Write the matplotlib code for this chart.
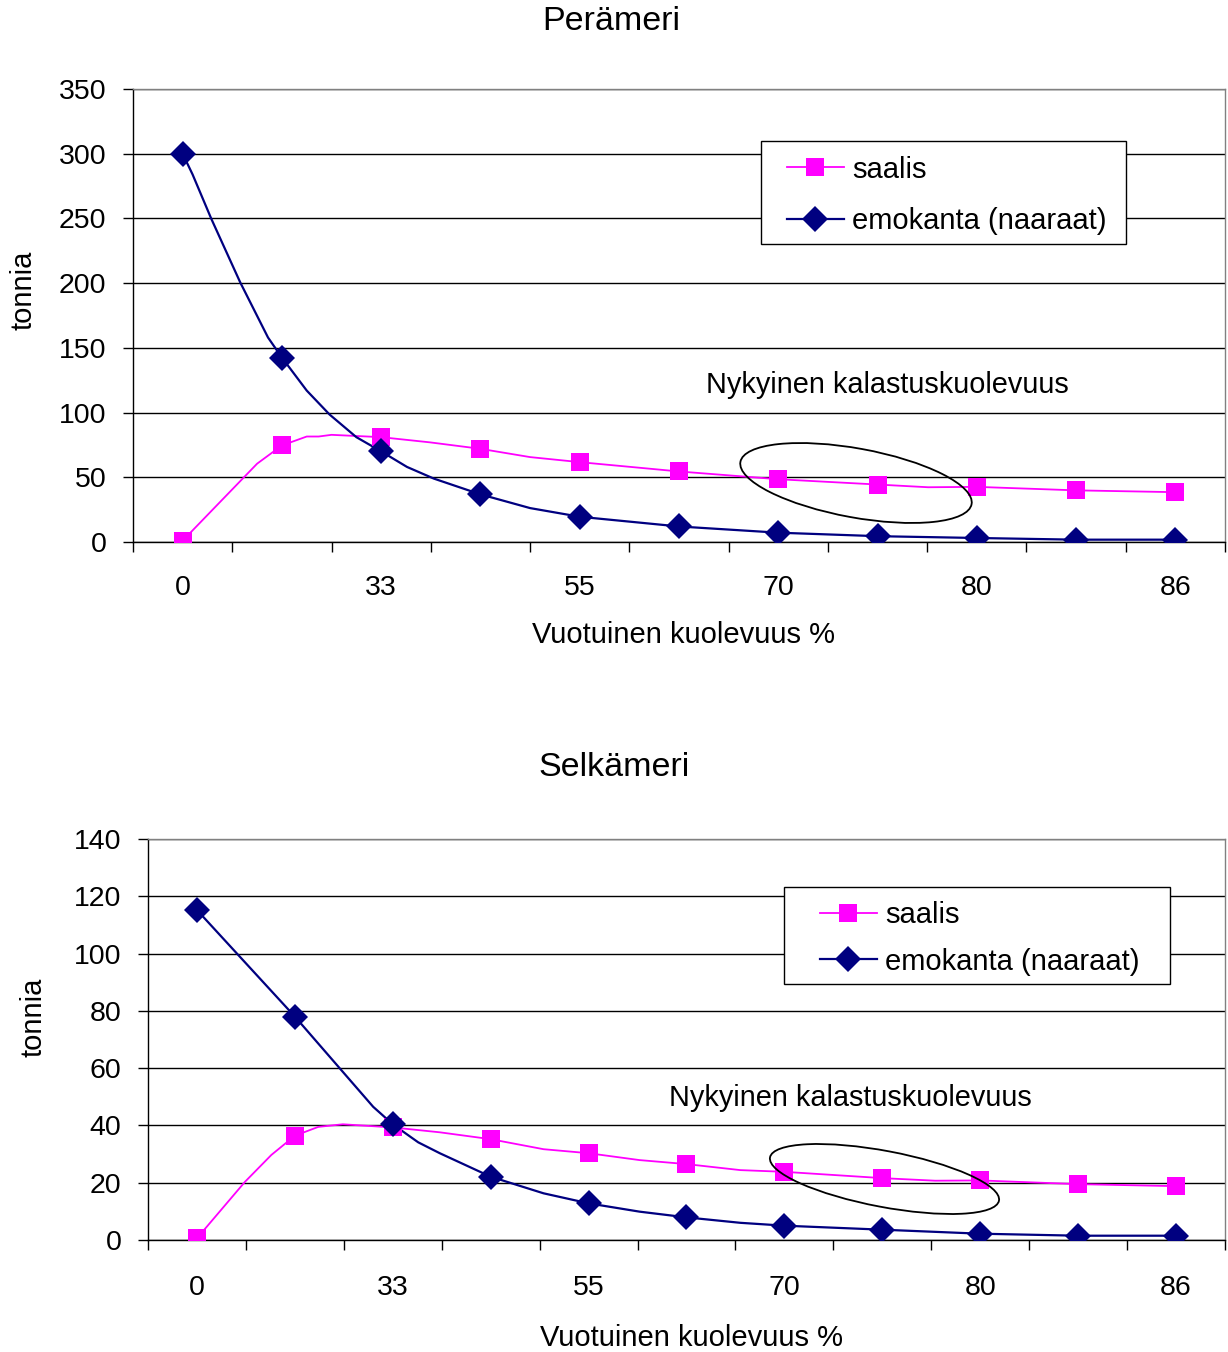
import matplotlib
matplotlib.use("Agg")
import matplotlib.pyplot as plt
from matplotlib.patches import Ellipse, Rectangle
from matplotlib.lines import Line2D
from matplotlib.transforms import IdentityTransform

plt.rcParams['font.family'] = ['Liberation Sans', 'DejaVu Sans']

W, H = 1228, 1352
DPI = 100

# ---------------- data ----------------
x_positions = list(range(11))
x_tick_pos = [0, 2, 4, 6, 8, 10]
x_tick_labels = ["0", "33", "55", "70", "80", "86"]
series_names = ["saalis", "emokanta (naaraat)"]

# Perämeri (marker values)
per_saalis = [1, 74.6, 81, 72, 61.7, 54.5, 48.5, 44.4, 42.6, 39.9, 38.5]
per_emo = [300, 142.5, 70, 36.8, 19.5, 12, 7.2, 4.5, 3.1, 1.8, 1.8]
# additional curve samples between markers
per_saalis_cx = [0.75, 1.25, 1.37, 1.50, 2.49, 3.50, 7.51]
per_saalis_cy = [60.5, 81.5, 81.5, 82.8, 77, 65.6, 42.3]
per_emo_cx = [0.10, 0.29, 0.58, 0.86, 1.25, 1.48, 1.75, 2.26, 2.53, 3.50]
per_emo_cy = [284, 249.5, 200.6, 158, 117, 98.5, 81, 58, 49, 26.2]

# Selkämeri (marker values)
sel_saalis = [0.6, 36.4, 39.3, 35.2, 30.3, 26.5, 23.8, 21.6, 20.8, 19.5, 18.8]
sel_emo = [115.2, 78, 40.4, 22.1, 12.8, 7.9, 5.0, 3.6, 2.2, 1.5, 1.5]
sel_saalis_cx = [0.49, 0.76, 1.24, 1.49, 2.48, 3.54, 4.52, 5.55, 7.54]
sel_saalis_cy = [20.3, 29.7, 39.5, 40.4, 37.6, 31.7, 27.9, 24.4, 20.7]
sel_emo_cx = [1.49, 1.80, 2.26, 2.48, 3.54, 4.52, 5.55]
sel_emo_cy = [58.7, 46.5, 34.1, 30.3, 16.3, 9.9, 6.0]

PINK = "#FF00FF"
NAVY = "#000080"
FS = 20.5
MS_SQ = 13.2
MS_D = 13.0


def merge(xm, ym, xc, yc):
    pts = sorted(list(zip(xm, ym)) + list(zip(xc, yc)))
    return [p[0] for p in pts], [p[1] for p in pts]


fig = plt.figure(figsize=(W / DPI, H / DPI), dpi=DPI)


def px_rect(l, t, r, b):
    return [l / W, 1 - b / H, (r - l) / W, (b - t) / H]


def panel(rect, ymax, ystep, saalis, sx, sy, emo, ex, ey,
          title, title_xy, xlabel_xy, ylabel_xy, note_xy,
          legend_box, handle_off, lspacing, xpad, ellipse):
    l, t, r, b = rect
    ax = fig.add_axes(px_rect(l, t, r, b))
    ax.set_xlim(-0.5, 10.5)
    ax.set_ylim(0, ymax)

    lx, ly = merge(x_positions, saalis, sx, sy)
    ax.plot(lx, ly, color=PINK, lw=1.3, zorder=5)
    ax.plot(x_positions, saalis, ls="none", marker="s", ms=MS_SQ,
            mfc=PINK, mec=PINK, mew=0, zorder=6)
    lx, ly = merge(x_positions, emo, ex, ey)
    ax.plot(lx, ly, color=NAVY, lw=1.6, zorder=5)
    ax.plot(x_positions, emo, ls="none", marker="D", ms=MS_D,
            mfc=NAVY, mec=NAVY, mew=0, zorder=7)

    # axes styling
    yt = list(range(0, ymax + 1, ystep))
    ax.set_yticks(yt)
    ax.set_yticklabels([str(v) for v in yt], fontsize=FS)
    ax.yaxis.grid(True, color="black", lw=1.0)
    ax.set_axisbelow(True)
    ax.tick_params(axis="y", direction="out", length=7, width=1,
                   pad=12, color="black")
    ax.set_xticks([i - 0.5 for i in range(12)])
    ax.set_xticklabels([])
    ax.tick_params(axis="x", which="major", direction="out", length=7, width=1)
    ax.set_xticks(x_tick_pos, minor=True)
    ax.set_xticklabels(x_tick_labels, minor=True, fontsize=FS)
    ax.tick_params(axis="x", which="minor", length=0, pad=xpad)
    for s in ("left", "bottom"):
        ax.spines[s].set_color("black")
        ax.spines[s].set_linewidth(1.0)
    for s in ("top", "right"):
        ax.spines[s].set_color("#808080")
        ax.spines[s].set_linewidth(1.0)

    # legend (manual frame)
    bl, bt, br, bb = legend_box
    ax_w, ax_h = r - l, b - t
    ax.add_patch(Rectangle(((bl - l) / ax_w, (b - bb) / ax_h),
                           (br - bl) / ax_w, (bb - bt) / ax_h,
                           transform=ax.transAxes, facecolor="white",
                           edgecolor="black", lw=1.0, zorder=8))
    handles = [
        Line2D([], [], color=PINK, lw=1.3, marker="s", ms=MS_SQ, mfc=PINK, mew=0),
        Line2D([], [], color=NAVY, lw=1.6, marker="D", ms=MS_D, mfc=NAVY, mew=0),
    ]
    leg = ax.legend(handles, series_names, frameon=False, loc="center left",
                    bbox_to_anchor=((bl + handle_off - l) / ax_w,
                                    (b - (bt + bb) / 2 - 3) / ax_h),
                    borderpad=0, borderaxespad=0, handlelength=1.95,
                    handletextpad=0.28, labelspacing=lspacing,
                    fontsize=FS + 0.5)
    leg.set_zorder(9)

    ax.text((note_xy[0] - l) / ax_w, (b - note_xy[1]) / ax_h,
            "Nykyinen kalastuskuolevuus", transform=ax.transAxes,
            ha="center", va="center", fontsize=FS + 0.3, zorder=9)

    ex_c, ey_c, ew, eh, ang = ellipse
    ax.add_patch(Ellipse((ex_c, H - ey_c), ew, eh, angle=ang,
                         transform=IdentityTransform(), fill=False,
                         edgecolor="black", lw=1.3, zorder=9))

    fig.text(title_xy[0] / W, 1 - title_xy[1] / H, title, ha="center",
             va="center", fontsize=24.5)
    fig.text(xlabel_xy[0] / W, 1 - xlabel_xy[1] / H, "Vuotuinen kuolevuus %",
             ha="center", va="center", fontsize=FS + 0.5)
    fig.text(ylabel_xy[0] / W, 1 - ylabel_xy[1] / H, "tonnia", ha="center",
             va="center", rotation=90, fontsize=FS + 0.5)
    return ax


panel((133, 89, 1225, 542), 350, 50,
      per_saalis, per_saalis_cx, per_saalis_cy,
      per_emo, per_emo_cx, per_emo_cy,
      "Perämeri", (611, 22), (683, 635), (23, 290), (887, 385),
      (761, 141, 1126, 244), 26, 0.82, 23.5, (856, 483, 235, 69, -10.35))

panel((148, 839, 1225, 1240), 140, 20,
      sel_saalis, sel_saalis_cx, sel_saalis_cy,
      sel_emo, sel_emo_cx, sel_emo_cy,
      "Selkämeri", (614, 768), (692, 1338), (33, 1017), (850, 1098),
      (784, 887, 1170, 984), 36, 0.62, 25.5, (884.5, 1179, 233, 56, -10.7))

fig.savefig("out.png", dpi=DPI)
